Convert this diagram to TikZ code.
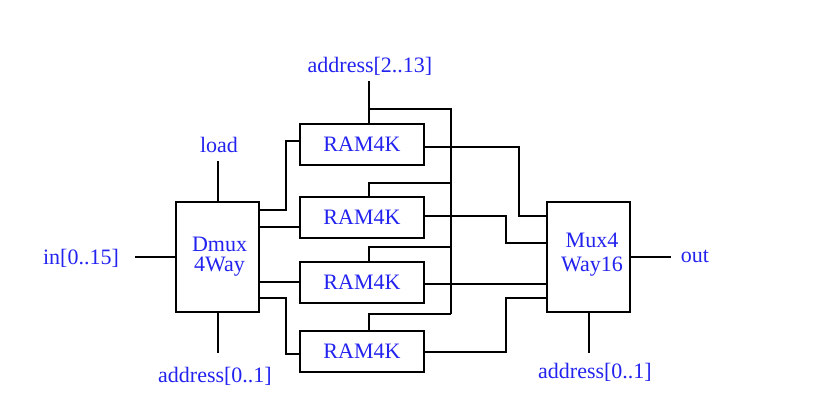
\documentclass[tikz,border=0pt]{standalone}
\usepackage{fontspec}
\setmainfont{Liberation Serif}
\definecolor{lbl}{RGB}{35,35,240}
\begin{document}
\begin{tikzpicture}[x=1pt,y=-1pt,
  wire/.style={line width=2pt},
  blk/.style={draw,line width=2pt,fill=white,inner sep=0pt,text=lbl,font=\fontsize{22}{20}\selectfont,align=center},
  lab/.style={text=lbl,inner sep=0pt,font=\fontsize{22}{24}\selectfont}]
\useasboundingbox (0,0) rectangle (837,418);
% free ends
\coordinate (inE) at (135,257);
\coordinate (loadE) at (217.5,161);
\coordinate (a01lE) at (217.5,353);
\coordinate (a213E) at (369,81);
\coordinate (outE) at (671,257);
\coordinate (a01rE) at (588.5,353);
% address bus
\draw[wire] (a213E) -- (369,123.5);
\draw[wire] (369,109) -- (451,109) -- (451,314);
\draw[wire] (369,196.5) -- (369,183) -- (451,183);
\draw[wire] (369,261.5) -- (369,247) -- (451,247);
\draw[wire] (369,330.5) -- (369,314) -- (451,314);
% dmux outputs
\draw[wire] (259,210) -- (286,210) -- (286,141) -- (300.5,141);
\draw[wire] (259,227) -- (300.5,227);
\draw[wire] (259,282) -- (300.5,282);
\draw[wire] (259,298) -- (286,298) -- (286,354) -- (300.5,354);
% ram outputs
\draw[wire] (423.5,147) -- (519,147) -- (519,216) -- (547,216);
\draw[wire] (423.5,216) -- (506,216) -- (506,243) -- (547,243);
\draw[wire] (423.5,284) -- (547,284);
\draw[wire] (423.5,352) -- (506,352) -- (506,298) -- (547,298);
% blocks
\node[blk,minimum width=83pt,minimum height=110pt] (dmux) at (217.5,257) {};
\node[text=lbl,font=\fontsize{22}{20}\selectfont,align=center] (dmuxt) at (219.5,257) {Dmux\\4Way};
\node[blk,minimum width=83pt,minimum height=110pt] (mux) at (588.5,257) {};
\node[text=lbl,font=\fontsize{22}{24}\selectfont,align=center] (muxt) at (592,255) {Mux4\\Way16};
\node[blk,minimum width=124pt,minimum height=41pt] (ram1) at (362,144) {RAM4K};
\node[blk,minimum width=124pt,minimum height=41pt] (ram2) at (362,217) {RAM4K};
\node[blk,minimum width=124pt,minimum height=41pt] (ram3) at (362,282) {RAM4K};
\node[blk,minimum width=124pt,minimum height=41pt] (ram4) at (362,351) {RAM4K};
% labels
\node[lab] (in) at (81,258) {in[0..15]};
\node[lab] (load) at (219,145) {load};
\node[lab] (a01l) at (215,376) {address[0..1]};
\node[lab] (a213) at (370,66) {address[2..13]};
\node[lab] (out) at (695,256) {out};
\node[lab] (a01r) at (595,372) {address[0..1]};
% outer wires
\draw[wire] (inE) -- (dmux.west);
\draw[wire] (loadE) -- (dmux.north);
\draw[wire] (dmux.south) -- (a01lE);
\draw[wire] (mux.east) -- (outE);
\draw[wire] (mux.south) -- (a01rE);
\end{tikzpicture}
\end{document}
